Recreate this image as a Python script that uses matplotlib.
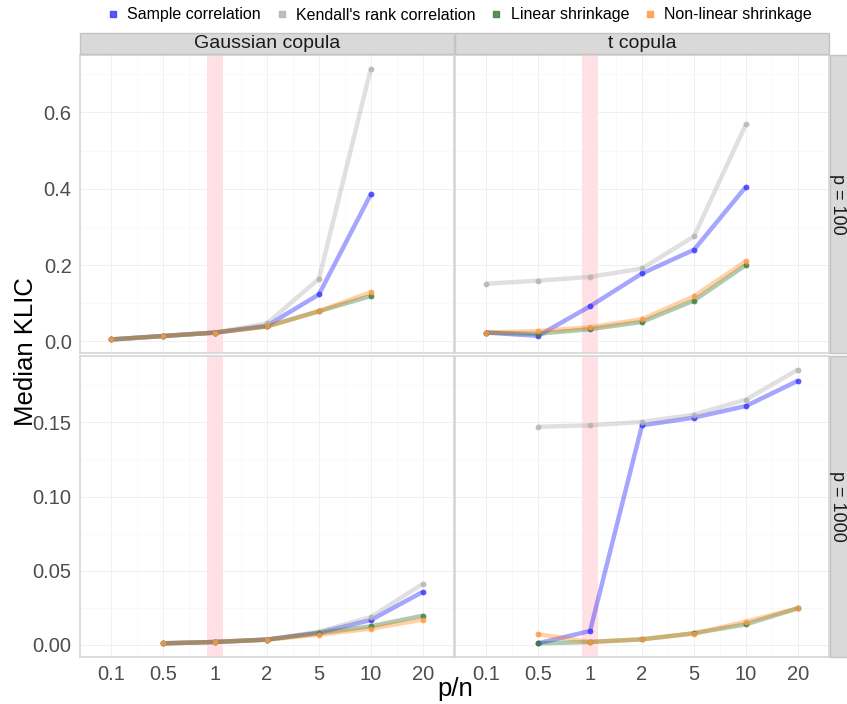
import numpy as np
import matplotlib
matplotlib.use('Agg')
import matplotlib.pyplot as plt
from matplotlib.patches import Rectangle
from matplotlib.lines import Line2D
from matplotlib.ticker import FormatStrFormatter

plt.rcParams['font.family'] = ['Liberation Sans', 'DejaVu Sans']

nan = np.nan

# x categories (p/n)
pn_labels = ['0.1', '0.5', '1', '2', '5', '10', '20']

# Gaussian copula, p = 100
gauss_100_sample = [0.005, 0.014, 0.023, 0.041, 0.123, 0.386, nan]
gauss_100_kendall = [0.005, 0.014, 0.023, 0.047, 0.164, 0.715, nan]
gauss_100_linear = [0.005, 0.014, 0.023, 0.039, 0.079, 0.119, nan]
gauss_100_nonlin = [0.005, 0.014, 0.023, 0.039, 0.079, 0.129, nan]

# t copula, p = 100
t_100_sample = [0.023, 0.0145, 0.092, 0.178, 0.240, 0.405, nan]
t_100_kendall = [0.151, 0.159, 0.169, 0.191, 0.275, 0.569, nan]
t_100_linear = [0.023, 0.020, 0.032, 0.051, 0.107, 0.200, nan]
t_100_nonlin = [0.023, 0.027, 0.037, 0.058, 0.118, 0.210, nan]

# Gaussian copula, p = 1000
gauss_1000_sample = [nan, 0.0011, 0.002, 0.0036, 0.0083, 0.0168, 0.0358]
gauss_1000_kendall = [nan, 0.0011, 0.002, 0.0036, 0.0089, 0.0188, 0.0412]
gauss_1000_linear = [nan, 0.0011, 0.002, 0.0036, 0.0079, 0.0126, 0.0197]
gauss_1000_nonlin = [nan, 0.0011, 0.002, 0.0036, 0.0069, 0.0110, 0.0170]

# t copula, p = 1000
t_1000_sample = [nan, 0.0011, 0.0094, 0.148, 0.1532, 0.161, 0.178]
t_1000_kendall = [nan, 0.147, 0.148, 0.1503, 0.1552, 0.1653, 0.1855]
t_1000_linear = [nan, 0.0011, 0.002, 0.0038, 0.0079, 0.0139, 0.0247]
t_1000_nonlin = [nan, 0.0072, 0.002, 0.0038, 0.0077, 0.0157, 0.0247]

series_names = ['Sample correlation', "Kendall's rank correlation",
                'Linear shrinkage', 'Non-linear shrinkage']
line_colors = ['#0000ff', '#a8a8a8', '#1a6b1a', '#ff7f0e']
point_colors = ['#3b3bff', '#b4b4b4', '#3f7f3f', '#ff9a48']

panels = {
    (0, 0): [gauss_100_sample, gauss_100_kendall, gauss_100_linear, gauss_100_nonlin],
    (0, 1): [t_100_sample, t_100_kendall, t_100_linear, t_100_nonlin],
    (1, 0): [gauss_1000_sample, gauss_1000_kendall, gauss_1000_linear, gauss_1000_nonlin],
    (1, 1): [t_1000_sample, t_1000_kendall, t_1000_linear, t_1000_nonlin],
}

W, H = 847, 704
fig = plt.figure(figsize=(W / 100, H / 100), dpi=100)

col_x = [(80, 454), (455, 829)]
row_y = [(55, 353), (356, 657)]

def fx(px):
    return px / W

def fy(py):
    return 1 - py / H

x = np.arange(len(pn_labels))
axes = {}
for (r, c), data in panels.items():
    x0, x1 = col_x[c]
    y0, y1 = row_y[r]
    sharey = axes.get((r, 0))
    ax = fig.add_axes([fx(x0), fy(y1), fx(x1) - fx(x0), fy(y0) - fy(y1)], sharey=sharey)
    axes[(r, c)] = ax
    ax.axvspan(2 - 0.15, 2 + 0.15, color='#ffe1e5', zorder=1, lw=0)
    for vals, lc, pc in zip(data, line_colors, point_colors):
        v = np.array(vals, dtype=float)
        ax.plot(x, v, color=lc, lw=3.2, alpha=0.35, solid_capstyle='butt', zorder=3)
        ax.plot(x, v, 'o', color=pc, ms=4.2, mew=0, alpha=0.85, zorder=4)
    ax.set_xlim(-0.6, 6.6)
    ax.set_xticks(x)
    ax.set_xticks(x[:-1] + 0.5, minor=True)
    ax.grid(True, which='major', color='#f0f0f0', lw=0.7, zorder=0)
    ax.grid(True, which='minor', color='#f7f7f7', lw=0.5, zorder=0)
    ax.set_axisbelow(True)
    for s in ax.spines.values():
        s.set_color('#d6d6d6')
        s.set_linewidth(1.2)
    ax.tick_params(length=0, labelsize=14.5, labelcolor='#4d4d4d', pad=6, which='both')
    if r == 1:
        ax.set_xticklabels(pn_labels)
    else:
        ax.tick_params(labelbottom=False)
    if c == 1:
        ax.tick_params(labelleft=False)

axes[(0, 0)].set_yticks([0.0, 0.2, 0.4, 0.6])
axes[(0, 0)].set_yticks([0.1, 0.3, 0.5, 0.7], minor=True)
axes[(0, 0)].yaxis.set_major_formatter(FormatStrFormatter('%.1f'))
axes[(1, 0)].set_yticks([0.0, 0.05, 0.10, 0.15])
axes[(1, 0)].set_yticks([0.025, 0.075, 0.125, 0.175], minor=True)
axes[(1, 0)].yaxis.set_major_formatter(FormatStrFormatter('%.2f'))
for ax in axes.values():
    ax.tick_params(which='minor', labelleft=False, labelbottom=False)

# facet strips
strip_fc = '#d9d9d9'
strip_ec = '#c4c4c4'
for c, label in enumerate(['Gaussian copula', 't copula']):
    x0, x1 = col_x[c]
    fig.patches.append(Rectangle((fx(x0), fy(54)), fx(x1) - fx(x0), fy(33) - fy(54),
                                 transform=fig.transFigure, facecolor=strip_fc,
                                 edgecolor=strip_ec, lw=1))
    fig.text(fx((x0 + x1) / 2), fy(44), label, ha='center', va='center',
             fontsize=14, color='#1a1a1a')
for r, label in enumerate(['p = 100', 'p = 1000']):
    y0, y1 = row_y[r]
    fig.patches.append(Rectangle((fx(830), fy(y1)), fx(W + 5) - fx(830), fy(y0) - fy(y1),
                                 transform=fig.transFigure, facecolor=strip_fc,
                                 edgecolor=strip_ec, lw=1))
    fig.text(fx(837), fy((y0 + y1) / 2), label, ha='center', va='center',
             rotation=270, fontsize=13, color='#1a1a1a')

fig.text(fx(26), fy(352), 'Median KLIC', rotation=90, ha='center', va='center',
         fontsize=18.5)
fig.text(fx(455), fy(689), 'p/n', ha='center', va='center', fontsize=18.5)

handles = [Line2D([], [], marker='s', color=pc, ls='none', ms=4, alpha=0.85)
           for pc in point_colors]
fig.legend(handles, series_names, loc='center', bbox_to_anchor=(fx(460), fy(15)),
           ncol=4, frameon=False, fontsize=11.5, handlelength=0.6, handletextpad=0.6,
           columnspacing=1.0)

fig.savefig('out.png', dpi=100)
